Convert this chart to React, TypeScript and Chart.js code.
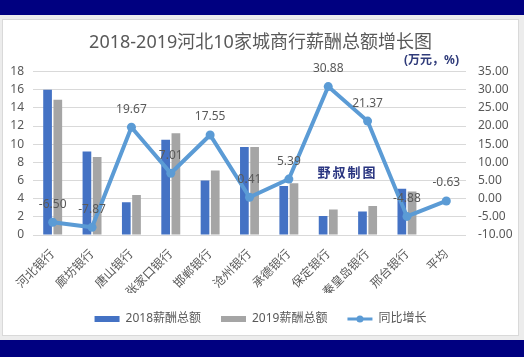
import React, { useEffect, useRef } from "react";
import { Chart, registerables } from "chart.js";

Chart.register(...registerables);

const categories = ["河北银行", "廊坊银行", "唐山银行", "张家口银行", "邯郸银行", "沧州银行", "承德银行", "保定银行", "秦皇岛银行", "邢台银行", "平均"];
const pay2018 = [16.0, 9.2, 3.6, 10.5, 6.0, 9.7, 5.4, 2.1, 2.6, 5.1, null];
const pay2019 = [14.9, 8.6, 4.4, 11.2, 7.1, 9.7, 5.7, 2.8, 3.2, 4.8, null];
const growth = [-6.5, -7.87, 19.67, 7.01, 17.55, 0.41, 5.39, 30.88, 21.37, -4.88, -0.63];
const seriesNames = ["2018薪酬总额", "2019薪酬总额", "同比增长"];
const titleText = "2018-2019河北10家城商行薪酬总额增长图";
const unitText = "(万元，%)";
const watermarkText = "野叔制图";

const FONT = "'Noto Sans', 'Noto Sans CJK SC', sans-serif";
const TXT = "#595959";
const BLUE = "#4472C4";
const GRAY = "#A5A5A5";
const LINE = "#5B9BD5";

const overlayPlugin = {
  id: "overlay",
  afterDatasetsDraw(chart: any) {
    const ctx = chart.ctx;
    const meta = chart.getDatasetMeta(2);
    ctx.save();
    ctx.font = `12px ${FONT}`;
    ctx.fillStyle = TXT;
    ctx.textAlign = "center";
    ctx.textBaseline = "middle";
    meta.data.forEach((pt: any, i: number) => {
      const v = growth[i];
      if (v == null) return;
      ctx.fillText(v.toFixed(2), pt.x, pt.y - 18);
    });
    ctx.restore();
  },
  afterDraw(chart: any) {
    const ctx = chart.ctx;
    ctx.save();
    ctx.font = `bold 12px ${FONT}`;
    ctx.fillStyle = "#2F3B7A";
    ctx.textAlign = "right";
    ctx.textBaseline = "middle";
    ctx.fillText(unitText, 456, 41);
    ctx.font = `bold 13px ${FONT}`;
    ctx.fillStyle = "#2A3580";
    ctx.textAlign = "center";
    const chars = Array.from(watermarkText);
    chars.forEach((c, i) => ctx.fillText(c, 321 + i * 15, 153));
    const lg = chart.legend;
    if (lg && lg.legendItems && lg.legendHitBoxes) {
      const idx = lg.legendItems.findIndex((it: any) => it.datasetIndex === 2);
      const hb = lg.legendHitBoxes[idx];
      if (hb) {
        const cy = hb.top + hb.height / 2;
        ctx.strokeStyle = LINE;
        ctx.lineWidth = 3;
        ctx.beginPath();
        ctx.moveTo(hb.left, cy);
        ctx.lineTo(hb.left + 25, cy);
        ctx.stroke();
        ctx.fillStyle = LINE;
        ctx.beginPath();
        ctx.arc(hb.left + 12.5, cy, 3.5, 0, Math.PI * 2);
        ctx.fill();
      }
    }
    ctx.restore();
  },
};

export default function App() {
  const ref = useRef<HTMLCanvasElement | null>(null);
  useEffect(() => {
    if (!ref.current) return;
    const chart = new Chart(ref.current, {
      type: "bar",
      data: {
        labels: categories,
        datasets: [
          {
            type: "bar",
            label: seriesNames[0],
            data: pay2018 as any,
            backgroundColor: BLUE,
            yAxisID: "y",
            barPercentage: 0.85,
            categoryPercentage: 0.52,
            order: 2,
          },
          {
            type: "bar",
            label: seriesNames[1],
            data: pay2019 as any,
            backgroundColor: GRAY,
            yAxisID: "y",
            barPercentage: 0.85,
            categoryPercentage: 0.52,
            order: 2,
          },
          {
            type: "line",
            label: seriesNames[2],
            data: growth,
            borderColor: LINE,
            backgroundColor: LINE,
            borderWidth: 4,
            pointRadius: 4.5,
            pointBackgroundColor: LINE,
            pointBorderWidth: 0,
            yAxisID: "y1",
            order: 1,
            tension: 0,
          } as any,
        ],
      },
      options: {
        responsive: false,
        animation: false,
        layout: { padding: { left: 0, right: 0, top: 0, bottom: 0 } },
        plugins: {
          title: {
            display: true,
            text: titleText,
            color: TXT,
            font: { family: FONT, size: 18, weight: "normal" },
            padding: { top: 12, bottom: 18 },
          },
          legend: {
            position: "bottom",
            labels: {
              color: TXT,
              font: { family: FONT, size: 12 },
              boxWidth: 25,
              boxHeight: 6,
              padding: 20,
              sort: (a: any, b: any) => a.datasetIndex - b.datasetIndex,
              generateLabels(chart: any) {
                const items = Chart.defaults.plugins.legend.labels.generateLabels(chart);
                items.forEach((it: any) => {
                  it.lineWidth = 0;
                  if (it.datasetIndex === 2) {
                    it.fillStyle = "rgba(0,0,0,0)";
                    it.strokeStyle = "rgba(0,0,0,0)";
                  }
                });
                return items;
              },
            },
          },
          tooltip: { enabled: false },
        },
        scales: {
          x: {
            grid: { display: false },
            border: { display: false },
            ticks: {
              color: TXT,
              font: { family: FONT, size: 12 },
              maxRotation: 45,
              minRotation: 45,
              autoSkip: false,
              padding: 4,
            },
            afterFit(scale: any) {
              scale.height = 58;
            },
          },
          y: {
            position: "left",
            min: 0,
            max: 18,
            border: { display: false },
            grid: { color: "#D9D9D9", drawTicks: false },
            ticks: {
              stepSize: 2,
              autoSkip: false,
              color: TXT,
              font: { family: FONT, size: 12 },
              padding: 9,
            },
            afterFit(scale: any) {
              scale.width = 30;
            },
          },
          y1: {
            position: "right",
            min: -10,
            max: 35,
            border: { display: false },
            grid: { display: false, drawTicks: false },
            ticks: {
              stepSize: 5,
              autoSkip: false,
              color: TXT,
              font: { family: FONT, size: 12 },
              padding: 12,
              callback: (v: any) => Number(v).toFixed(2),
            },
            afterFit(scale: any) {
              scale.width = 52;
            },
          },
        },
      },
      plugins: [overlayPlugin],
    });
    return () => chart.destroy();
  }, []);

  return (
    <div style={{ position: "absolute", left: 0, top: 0, width: 524, height: 357, background: "#ECECEC", overflow: "hidden" }}>
      <div style={{ position: "absolute", left: 0, top: 0, width: 524, height: 15, background: "#000080" }} />
      <div
        style={{
          position: "absolute",
          left: 2,
          top: 19,
          width: 517,
          height: 317,
          boxSizing: "border-box",
          border: "1px solid #D9D9D9",
          background: "#FFFFFF",
        }}
      >
        <canvas ref={ref} width={515} height={315} style={{ display: "block", width: 515, height: 315 }} />
      </div>
      <div style={{ position: "absolute", left: 0, top: 340, width: 524, height: 17, background: "#000080" }} />
    </div>
  );
}
